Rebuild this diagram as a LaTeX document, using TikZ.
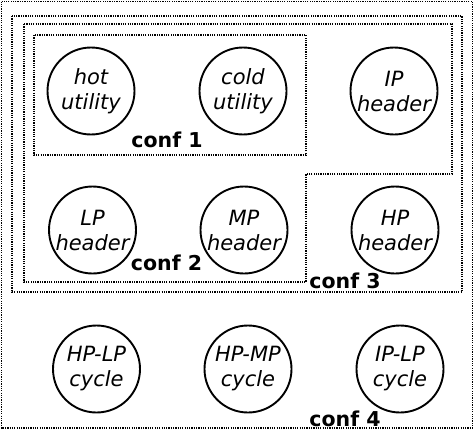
\documentclass[tikz,border=0pt]{standalone}
\usepackage{fontspec}
\setmainfont{DejaVu Sans}
\begin{document}
\begin{tikzpicture}[x=1pt,y=-1pt,
  unit/.style={circle, draw, line width=1.9pt, minimum size=87pt, inner sep=0pt, align=center,
    font=\fontsize{21}{25}\selectfont\itshape},
  conflabel/.style={font=\fontsize{20.5}{24}\selectfont\bfseries, inner sep=0pt},
  confbox/.style={line width=1.2pt, dash pattern=on 1.2pt off 1.1pt}]
\useasboundingbox (0,0) rectangle (474,431);
% configuration boxes
\draw[confbox] (1.5,1.5) rectangle (472.5,428);
\draw[confbox] (12,16) rectangle (462,292);
\draw[confbox] (24,24) -- (452,24) -- (452,174) -- (306,174) -- (306,282) -- (24,282) -- cycle;
\draw[confbox] (34,35) rectangle (306,155);
% units
\node[unit] (hot) at (91,91) {hot\\utility};
\node[unit] (cold) at (243,91) {cold\\utility};
\node[unit] (ip) at (394,91) {IP\\header};
\node[unit] (lp) at (92.5,230) {LP\\header};
\node[unit] (mp) at (244,230) {MP\\header};
\node[unit] (hp) at (395,230) {HP\\header};
\node[unit] (hplp) at (96.5,369) {HP-LP\\cycle};
\node[unit] (hpmp) at (248,369) {HP-MP\\cycle};
\node[unit] (iplp) at (400,369) {IP-LP\\cycle};
% labels
\node[conflabel] (c1) at (167,140) {conf 1};
\node[conflabel] (c2) at (166.5,263) {conf 2};
\node[conflabel] (c3) at (345,281) {conf 3};
\node[conflabel] (c4) at (345,419) {conf 4};
\end{tikzpicture}
\end{document}
